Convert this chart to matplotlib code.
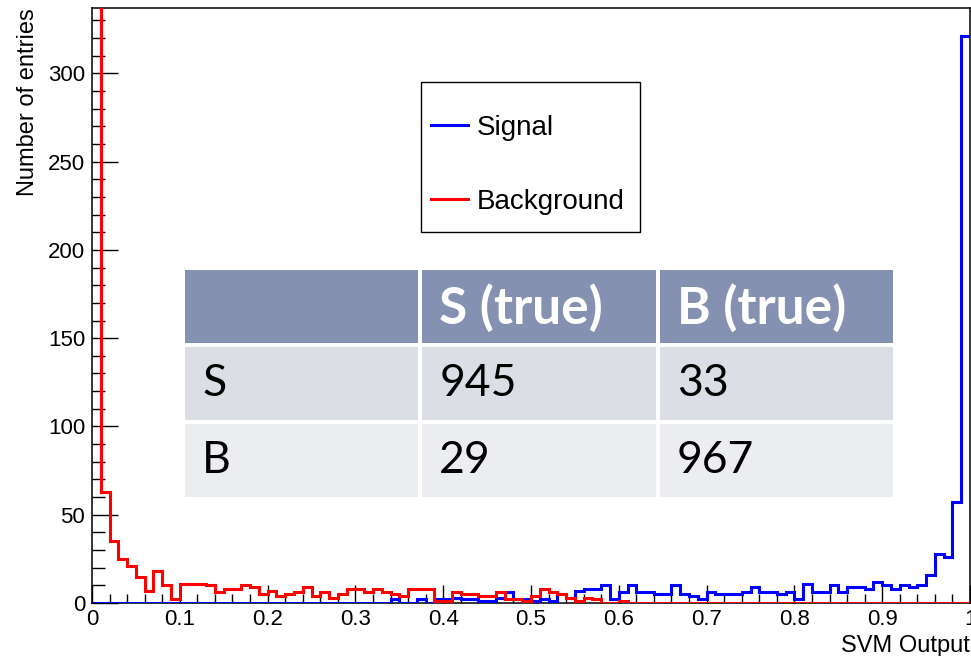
import matplotlib

matplotlib.use("Agg")
import matplotlib.pyplot as plt
import numpy as np
from matplotlib.lines import Line2D
from matplotlib.patches import Rectangle
from matplotlib.ticker import FuncFormatter, MultipleLocator

# 100 bins of width 0.01 on [0, 1]
bin_edges = np.linspace(0.0, 1.0, 101)

background = [
    530, 63, 35, 25, 21, 15, 7, 18, 10, 2,
    11, 11, 11, 10, 6, 8, 8, 10, 9, 5,
    7, 4, 5, 6, 9, 4, 6, 3, 5, 8,
    8, 6, 8, 6, 5, 4, 8, 8, 8, 1,
    1, 6, 5, 5, 4, 4, 6, 2, 2, 1,
    4, 8, 6, 5, 3, 1, 3, 2, 0, 0,
    1, 0, 0, 0, 0, 0, 0, 0, 0, 0,
    0, 0, 0, 0, 0, 0, 0, 0, 0, 0,
    0, 0, 0, 0, 0, 0, 0, 0, 0, 0,
    0, 0, 0, 0, 0, 0, 0, 0, 0, 0,
]

signal = [
    0, 0, 0, 0, 0, 0, 0, 0, 0, 0,
    0, 0, 0, 0, 0, 0, 0, 0, 0, 0,
    0, 0, 0, 0, 0, 0, 0, 0, 0, 0,
    0, 0, 0, 0, 2, 0, 0, 2, 0, 2,
    2, 3, 2, 2, 1, 1, 3, 6, 2, 2,
    1, 2, 1, 5, 3, 7, 8, 8, 10, 2,
    6, 10, 6, 6, 5, 5, 10, 5, 4, 2,
    6, 5, 5, 5, 6, 9, 6, 6, 5, 6,
    2, 11, 6, 6, 10, 6, 9, 9, 8, 12,
    10, 8, 10, 9, 10, 16, 28, 26, 57, 321,
]

series_labels = ["Signal", "Background"]
series_colors = ["#0000ff", "#ff0000"]

# confusion table overlay
table_header = ["", "S (true)", "B (true)"]
table_rows = [["S", "945", "33"], ["B", "29", "967"]]
row_colors = ["#8591b1", "#dcdee6", "#ecedf1"]

W, H = 971, 656


def main():
    plt.rcParams["font.family"] = ["Liberation Sans", "DejaVu Sans"]
    fig = plt.figure(figsize=(W / 100, H / 100), dpi=100)
    ax = fig.add_axes([92 / W, 53 / H, 878 / W, 595 / H])

    # ROOT-style outline: no vertical edges at the histogram ends
    ax.stairs(signal, bin_edges, color=series_colors[0], linewidth=2.2,
              baseline=None, zorder=3)
    ax.stairs(background, bin_edges, color=series_colors[1], linewidth=2.2,
              baseline=None, zorder=3)

    ax.set_xlim(0, 1)
    ax.set_ylim(0, 337)
    ax.xaxis.set_major_locator(MultipleLocator(0.1))
    ax.xaxis.set_minor_locator(MultipleLocator(0.02))
    ax.yaxis.set_major_locator(MultipleLocator(50))
    ax.yaxis.set_minor_locator(MultipleLocator(10))
    ax.xaxis.set_major_formatter(FuncFormatter(lambda v, p: f"{v:g}"))

    ax.tick_params(axis="both", which="both", direction="in", top=False,
                   right=False, width=1.0, labelsize=16)
    ax.tick_params(axis="x", which="major", length=13, pad=4)
    ax.tick_params(axis="x", which="minor", length=6.5)
    ax.tick_params(axis="y", which="major", length=18.7, pad=5)
    ax.tick_params(axis="y", which="minor", length=9.4)
    for s in ax.spines.values():
        s.set_linewidth(1.1)
        s.set_zorder(2)

    ax.set_ylabel("Number of entries", fontsize=17, loc="top")
    ax.yaxis.set_label_coords(-0.060, 1.0)
    ax.set_xlabel("SVM Output", fontsize=17, loc="right")
    ax.xaxis.set_label_coords(1.0, -0.053)

    # legend: frame drawn separately so its size can match
    ax.add_patch(Rectangle((0.3747, 0.6235), 0.2494, 0.252,
                           transform=ax.transAxes, facecolor="white",
                           edgecolor="black", linewidth=1.0, zorder=4))
    handles = [Line2D([], [], color=c, linewidth=2.2) for c in series_colors]
    leg = ax.legend(
        handles, series_labels, loc="upper left",
        bbox_to_anchor=(0.3861, 0.821), borderaxespad=0, borderpad=0,
        fontsize=20, frameon=False, handlelength=1.33, handletextpad=0.32,
        labelspacing=1.73,
    )
    leg.set_zorder(5)

    # table drawn in its own axes, one unit per cell
    tax = fig.add_axes([183 / W, (H - 499) / H, 712 / W, 231 / H])
    tax.set_xlim(0, 3)
    tax.set_ylim(3, 0)
    tax.axis("off")
    gx, gy = 0.017, 0.058
    cells = [table_header] + table_rows
    for r, row in enumerate(cells):
        for c, txt in enumerate(row):
            tax.add_patch(Rectangle((c + gx / 2, r + gy / 2), 1 - gx, 1 - gy,
                                    facecolor=row_colors[r], edgecolor="none"))
            if r == 0:
                tax.text(c + 0.08, r + 0.52, txt, color="white", fontsize=37,
                         fontweight="bold", family="Lato", va="center")
            else:
                tax.text(c + 0.08, r + 0.5, txt, color="black", fontsize=32,
                         family="Lato", va="center")

    fig.savefig("out.png", dpi=100)


if __name__ == "__main__":
    main()
